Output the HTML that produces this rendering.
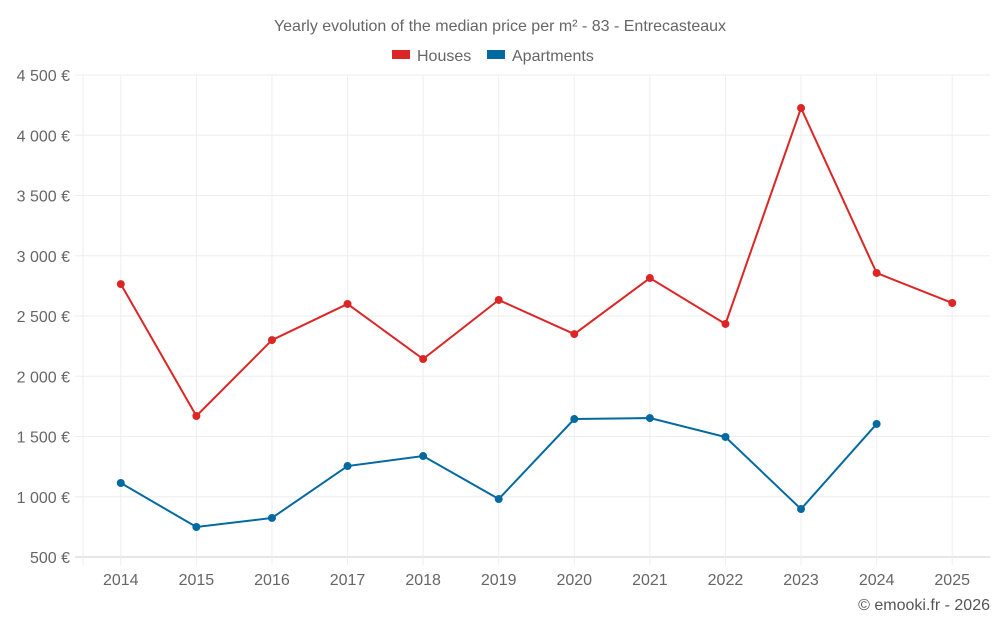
<!DOCTYPE html>
<html><head><meta charset="utf-8">
<style>
html,body{margin:0;padding:0;background:#fff;}
body{width:1000px;height:625px;overflow:hidden;font-family:"Liberation Sans",sans-serif;}
</style></head>
<body>
<svg id="chart" width="1000" height="625" xmlns="http://www.w3.org/2000/svg" font-family="Liberation Sans, sans-serif">
<text x="500" y="31" text-anchor="middle" font-size="16" fill="#666">Yearly evolution of the median price per m² - 83 - Entrecasteaux</text>
<g>
<g><rect x="392" y="50" width="18" height="9" fill="#dc2626"/><text x="417" y="61" font-size="16" fill="#666">Houses</text></g>
<g><rect x="487" y="50" width="18" height="9" fill="#0369a1"/><text x="512" y="61" font-size="16" fill="#666">Apartments</text></g>
</g>
<g id="grid"></g>
<g id="axes"></g>
<g id="series"></g>
<text x="990" y="610" text-anchor="end" font-size="16" fill="#555">© emooki.fr - 2026</text>
</svg>
<script>
const categories=["2014","2015","2016","2017","2018","2019","2020","2021","2022","2023","2024","2025"];
const houses=[2765,1670,2300,2600,2143,2633,2350,2815,2434,4226,2857,2608];
const apartments=[1114,749,824,1255,1338,981,1645,1653,1496,898,1604,null];
const yTicks=[500,1000,1500,2000,2500,3000,3500,4000,4500];
const yTickLabels=["500 €","1 000 €","1 500 €","2 000 €","2 500 €","3 000 €","3 500 €","4 000 €","4 500 €"];
const NS="http://www.w3.org/2000/svg";
const L=83,R=990,T=75,B=557,ymin=500,ymax=4500;
const bw=(R-L)/categories.length;
const x=i=>L+bw*(i+0.5);
const y=v=>B-(v-ymin)/(ymax-ymin)*(B-T);
function mk(tag,attrs,parent){const e=document.createElementNS(NS,tag);for(const k in attrs)e.setAttribute(k,attrs[k]);parent.appendChild(e);return e;}
const grid=document.getElementById('grid'),axes=document.getElementById('axes'),series=document.getElementById('series');
yTicks.forEach((t,i)=>{
 const ln=mk('line',{x1:L-8,x2:R,y1:y(t),y2:y(t),stroke:i===0?'#ccc':'#eee','stroke-width':1},grid);
 
 
 const tx=mk('text',{x:70,y:y(t)+6,'text-anchor':'end','font-size':16,fill:'#666'},axes);
 tx.textContent=yTickLabels[i];
 
 
});
const ax=mk('line',{x1:L,x2:L,y1:T,y2:B+8,stroke:'#eee','stroke-width':1},grid);


categories.forEach((c,i)=>{
 const ln=mk('line',{x1:x(i),x2:x(i),y1:T,y2:B+8,stroke:'#eee','stroke-width':1},grid);
 
 
 const tx=mk('text',{x:x(i),y:585,'text-anchor':'middle','font-size':16,fill:'#666'},axes);
 tx.textContent=c;
 
 
});
function draw(data,color,name){
 let d='';data.forEach((v,i)=>{if(v==null)return;d+=(d?'L':'M')+x(i)+','+y(v);});
 const p=mk('path',{d:d,fill:'none',stroke:color,'stroke-width':2},series);
 
 
 data.forEach((v,i)=>{if(v==null)return;
  const c=mk('circle',{cx:x(i),cy:y(v),r:4,fill:color},series);
  
  
 });
}
draw(houses,'#dc2626','houses');
draw(apartments,'#0369a1','apartments');
</script>
</body></html>
